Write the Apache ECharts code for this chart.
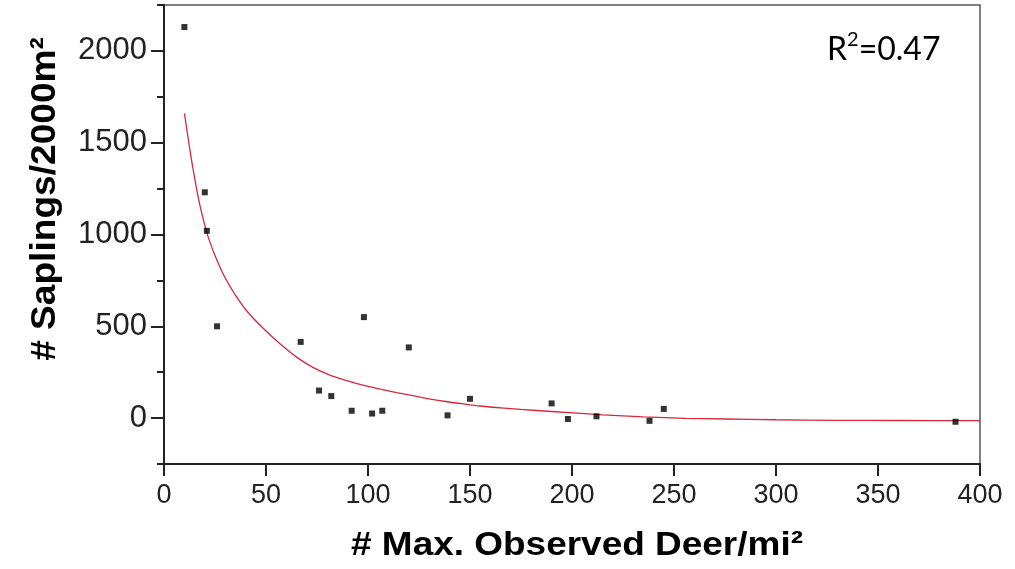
<!DOCTYPE html>
<html>
<head>
<meta charset="utf-8">
<script src="https://cdn.jsdelivr.net/npm/echarts@6/dist/echarts.min.js"></script>
<style>
html,body{margin:0;padding:0;background:#fff;}
#chart{width:1015px;height:569px;}
</style>
</head>
<body>
<div id="chart"></div>
<script>
// Observed points: deer density (x) vs saplings (y)
var deerX = [10, 20, 21, 26, 67, 76, 82, 92, 98, 102, 107, 120, 139, 150, 190, 198, 212, 238, 245, 388];
var saplingsY = [2130, 1230, 1020, 500, 415, 150, 120, 40, 550, 25, 40, 385, 15, 105, 80, -5, 10, -15, 50, -20];

// Fitted curve
var fitX = [10, 12, 14, 17, 20, 22, 26, 30, 35, 41, 49, 57, 65, 73, 81, 90, 98, 106, 114, 122, 130, 139, 147, 155, 165, 175, 190, 215, 235, 256, 275, 300, 330, 360, 400];
var fitY = [1660, 1512, 1372, 1190, 1050, 975, 858, 763, 670, 578, 485, 403, 332, 276, 236, 203, 178, 158, 139, 122, 105, 89, 77, 66, 56, 47, 36, 18, 7, -1, -5, -9, -12, -13, -14];

var yLabelValues = [0, 500, 1000, 1500, 2000];
var yMinorValues = [-250, 250, 750, 1250, 1750, 2250];
var xTickStep = 50;
var r2Text = '0.47';

var scatterData = deerX.map(function (x, i) { return [x, saplingsY[i]]; });
var fitData = fitX.map(function (x, i) { return [x, fitY[i]]; });

var chart = echarts.init(document.getElementById('chart'));
var axisColor = '#222';
chart.setOption({
  backgroundColor: '#fff',
  animation: false,
  grid: { left: 164, right: 35, top: 5, bottom: 105, show: true, borderColor: '#555', borderWidth: 1.5, backgroundColor: 'transparent' },
  xAxis: {
    type: 'value', min: 0, max: 400, interval: xTickStep,
    axisLine: { show: true, onZero: false, lineStyle: { color: axisColor, width: 2 } },
    axisTick: { show: true, length: 12, lineStyle: { color: axisColor, width: 2 } },
    axisLabel: { color: '#222', fontFamily: 'Liberation Sans', fontSize: 27, margin: 18 },
    splitLine: { show: false }
  },
  yAxis: [{
    type: 'value', min: -250, max: 2250,
    axisLine: { show: true, onZero: false, lineStyle: { color: axisColor, width: 2 } },
    axisTick: { show: true, length: 13, customValues: yLabelValues, lineStyle: { color: axisColor, width: 2 } },
    axisLabel: { color: '#222', fontFamily: 'Liberation Sans', fontSize: 31, margin: 17, customValues: yLabelValues,
      formatter: function (v) { return String(v); } },
    splitLine: { show: false }
  }, {
    type: 'value', min: -250, max: 2250, position: 'left',
    axisLine: { show: false },
    axisTick: { show: true, length: 7, customValues: yMinorValues, lineStyle: { color: axisColor, width: 2 } },
    axisLabel: { show: false },
    splitLine: { show: false }
  }],
  graphic: [
    { type: 'text', x: 577, y: 546, scaleX: 1.12, style: { text: '# Max. Observed Deer/mi²', font: 'bold 33px "Liberation Sans"', fill: '#000', align: 'center', verticalAlign: 'middle' } },
    { type: 'text', x: 45, y: 199, rotation: Math.PI / 2, scaleX: 1.06, style: { text: '# Saplings/2000m²', font: 'bold 35px "Liberation Sans"', fill: '#000', align: 'center', verticalAlign: 'middle' } },
    { type: 'text', x: 827, y: 48, style: {
      text: '{b|R}{s|2}{b|=' + r2Text + '}',
      align: 'left', verticalAlign: 'middle',
      rich: {
        b: { fontFamily: 'Lato', fontSize: 32, fill: '#000', lineHeight: 36, verticalAlign: 'bottom' },
        s: { fontFamily: 'Lato', fontSize: 20, fill: '#000', lineHeight: 36, verticalAlign: 'top' }
      } } }
  ],
  series: [{
    type: 'line', data: fitData, smooth: 0.25, showSymbol: false, symbol: 'none',
    lineStyle: { color: '#d8283c', width: 1.3 }, z: 2
  }, {
    type: 'scatter', data: scatterData, symbol: 'rect', symbolSize: 6,
    itemStyle: { color: '#000' }, z: 3
  }]
});
</script>
</body>
</html>
